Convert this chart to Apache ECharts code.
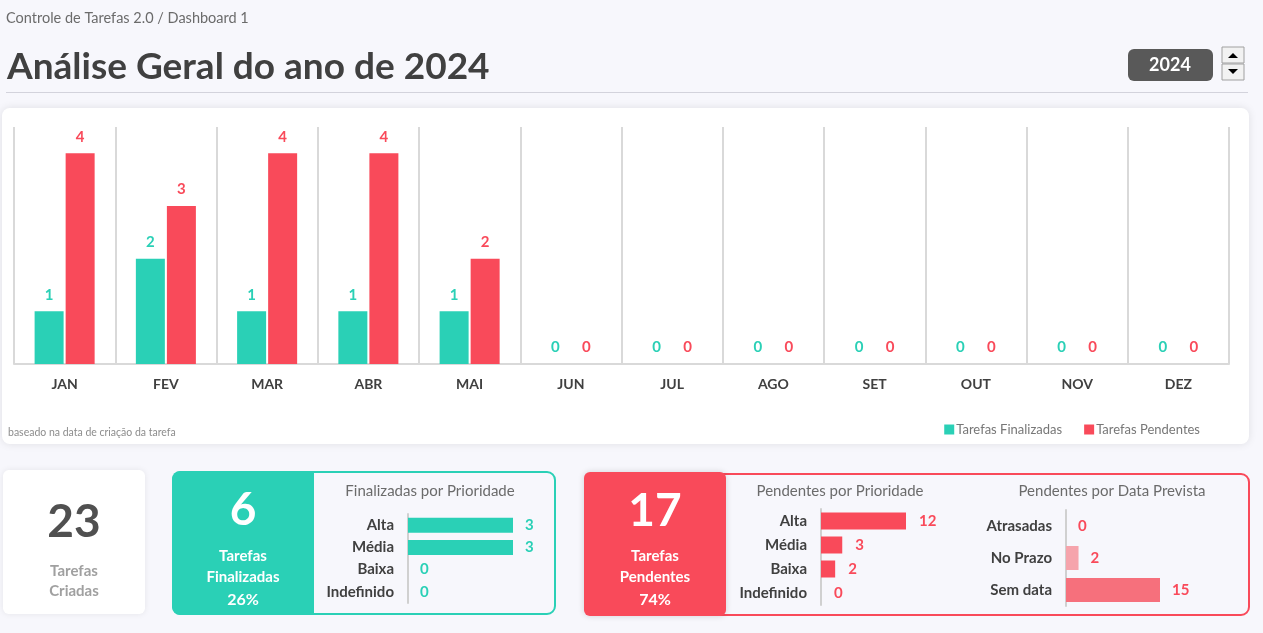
<!DOCTYPE html>
<html>
<head>
<meta charset="utf-8">
<script src="https://cdn.jsdelivr.net/npm/echarts@6/dist/echarts.min.js"></script>
<style>
  html, body { margin: 0; padding: 0; background: #f7f7fc; }
  #chart { width: 1263px; height: 633px; }
</style>
</head>
<body>
<div id="chart"></div>
<script>
// dados do dashboard
const meses = ['JAN', 'FEV', 'MAR', 'ABR', 'MAI', 'JUN', 'JUL', 'AGO', 'SET', 'OUT', 'NOV', 'DEZ']
const finalizadas = [1, 2, 1, 1, 1, 0, 0, 0, 0, 0, 0, 0]
const pendentes = [4, 3, 4, 4, 2, 0, 0, 0, 0, 0, 0, 0]
const prioridades = ['Alta', 'Média', 'Baixa', 'Indefinido']
const finalPorPrioridade = [3, 3, 0, 0]
const pendPorPrioridade = [12, 3, 2, 0]
const prazos = ['Atrasadas', 'No Prazo', 'Sem data']
const pendPorPrazo = [0, 2, 15]
const ano = '2024'

const VERDE = '#2ad0b6'
const VERMELHO = '#f94a5a'
const FONTE = 'Lato'

const totalFin = finalizadas.reduce((a, b) => a + b, 0)
const totalPend = pendentes.reduce((a, b) => a + b, 0)
const totalCriadas = totalFin + totalPend
const pctFin = Math.round(totalFin / totalCriadas * 100) + '%'
const pctPend = Math.round(totalPend / totalCriadas * 100) + '%'

const txt = (x, y, text, size, color, weight, align) => ({
  type: 'text', x: x, y: y,
  style: {
    text: text, fontSize: size, fill: color, fontWeight: weight || 'normal',
    fontFamily: FONTE, align: align || 'center', verticalAlign: 'middle'
  }
})

const catAxis = (grid, data) => ({
  type: 'category', gridIndex: grid, data: data, inverse: true,
  axisTick: { show: false },
  axisLine: { lineStyle: { color: '#d0d0d0', width: 2 } },
  axisLabel: { color: '#404040', fontWeight: 'bold', fontSize: 15, fontFamily: FONTE, margin: 14 },
  splitLine: { show: false }
})

const valAxis = (grid, max) => ({ type: 'value', gridIndex: grid, min: 0, max: max, show: false })

const barLabel = (color, dist) => ({
  show: true, position: 'right', distance: dist, color: color,
  fontWeight: 'bold', fontSize: 15, fontFamily: FONTE
})

const graphics = [
  txt(6, 18, 'Controle de Tarefas 2.0 / Dashboard 1', 14.5, '#6b6b6b', 'normal', 'left'),
  txt(7, 67, 'Análise Geral do ano de ' + ano, 37, '#404040', 'bold', 'left'),
  { type: 'rect', shape: { x: 6, y: 92, width: 1242, height: 1 }, style: { fill: '#d3d3dc' } },
  // seletor de ano
  { type: 'rect', shape: { x: 1128, y: 49, width: 85, height: 32, r: 6 }, style: { fill: '#595959' } },
  txt(1170, 65, ano, 18, '#ffffff', 'bold'),
  { type: 'rect', shape: { x: 1222, y: 47, width: 22, height: 16 }, style: { fill: '#f2f2f2', stroke: '#a0a0a0', lineWidth: 1 } },
  { type: 'rect', shape: { x: 1222, y: 64, width: 22, height: 16 }, style: { fill: '#f2f2f2', stroke: '#a0a0a0', lineWidth: 1 } },
  { type: 'polygon', shape: { points: [[1228, 58], [1238, 58], [1233, 53]] }, style: { fill: '#000' } },
  { type: 'polygon', shape: { points: [[1228, 69], [1238, 69], [1233, 74]] }, style: { fill: '#000' } },
  // card do gráfico principal
  { type: 'rect', shape: { x: 2, y: 108, width: 1247, height: 336, r: 8 },
    style: { fill: '#ffffff', shadowBlur: 8, shadowColor: 'rgba(0,0,0,0.10)' } },
  txt(8, 433, 'baseado na data de criação da tarefa', 10.5, '#8c8c8c', 'normal', 'left'),
  // card tarefas criadas
  { type: 'rect', shape: { x: 3, y: 470, width: 142, height: 144, r: 6 },
    style: { fill: '#ffffff', shadowBlur: 6, shadowColor: 'rgba(0,0,0,0.08)' } },
  txt(74, 522, String(totalCriadas), 46, '#505050', 'bold'),
  txt(74, 571, 'Tarefas', 15, '#a0a0a0', 'bold'),
  txt(74, 591, 'Criadas', 15, '#a0a0a0', 'bold'),
  // card finalizadas
  { type: 'rect', shape: { x: 173, y: 472, width: 382, height: 142, r: 8 },
    style: { fill: '#f7f7fc', stroke: VERDE, lineWidth: 2 } },
  { type: 'rect', shape: { x: 172, y: 471, width: 142, height: 144, r: [8, 0, 0, 8] }, style: { fill: VERDE } },
  txt(243, 510, String(totalFin), 46, '#ffffff', 'bold'),
  txt(243, 556, 'Tarefas', 15, '#ffffff', 'bold'),
  txt(243, 577, 'Finalizadas', 15, '#ffffff', 'bold'),
  txt(243, 600, pctFin, 16, '#ffffff', 'bold'),
  txt(430, 491, 'Finalizadas por Prioridade', 15, '#6b6b6b'),
  // card pendentes
  { type: 'rect', shape: { x: 585, y: 474, width: 664, height: 141, r: 8 },
    style: { fill: '#f7f7fc', stroke: VERMELHO, lineWidth: 2 } },
  { type: 'rect', shape: { x: 584, y: 472, width: 142, height: 144, r: 6 },
    style: { fill: VERMELHO, shadowBlur: 6, shadowColor: 'rgba(0,0,0,0.15)' } },
  txt(655, 511, String(totalPend), 46, '#ffffff', 'bold'),
  txt(655, 556, 'Tarefas', 15, '#ffffff', 'bold'),
  txt(655, 577, 'Pendentes', 15, '#ffffff', 'bold'),
  txt(655, 600, pctPend, 16, '#ffffff', 'bold'),
  txt(840, 491, 'Pendentes por Prioridade', 15, '#6b6b6b'),
  txt(1112, 491, 'Pendentes por Data Prevista', 15, '#6b6b6b')
]

const option = {
  animation: false,
  textStyle: { fontFamily: FONTE },
  graphic: { elements: graphics },
  legend: {
    data: ['Tarefas Finalizadas', 'Tarefas Pendentes'],
    right: 58, top: 418, itemWidth: 10, itemHeight: 10, itemGap: 22,
    icon: 'rect',
    textStyle: { color: '#777777', fontSize: 13, fontFamily: FONTE, padding: [0, 0, 0, -3] }
  },
  grid: [
    { left: 14, right: 34, top: 127, bottom: 269 },
    { left: 408, top: 514, width: 105, height: 89 },
    { left: 821, top: 509, width: 85, height: 96 },
    { left: 1066, top: 510, width: 94, height: 96 }
  ],
  xAxis: [
    {
      type: 'category', gridIndex: 0, data: meses,
      axisLine: { lineStyle: { color: '#d9d9d9', width: 2 } },
      axisTick: { show: false },
      axisLabel: { color: '#404040', fontWeight: 'bold', fontSize: 14, fontFamily: FONTE, margin: 13 },
      splitLine: { show: true, lineStyle: { color: '#d9d9d9', width: 2 } }
    },
    valAxis(1, 3),
    valAxis(2, 12),
    valAxis(3, 15)
  ],
  yAxis: [
    { type: 'value', gridIndex: 0, min: 0, max: 4.5, show: false },
    catAxis(1, prioridades),
    catAxis(2, prioridades),
    catAxis(3, prazos)
  ],
  series: [
    {
      name: 'Tarefas Finalizadas', type: 'bar', xAxisIndex: 0, yAxisIndex: 0,
      data: finalizadas, barWidth: 29, barGap: '7%',
      itemStyle: { color: VERDE },
      label: { show: true, position: 'top', distance: 9, color: VERDE, fontWeight: 'bold', fontSize: 15, fontFamily: FONTE }
    },
    {
      name: 'Tarefas Pendentes', type: 'bar', xAxisIndex: 0, yAxisIndex: 0,
      data: pendentes, barWidth: 29, barGap: '7%',
      itemStyle: { color: VERMELHO },
      label: { show: true, position: 'top', distance: 9, color: VERMELHO, fontWeight: 'bold', fontSize: 15, fontFamily: FONTE }
    },
    {
      name: 'Finalizadas por Prioridade', type: 'bar', xAxisIndex: 1, yAxisIndex: 1,
      data: finalPorPrioridade, barWidth: 15,
      itemStyle: { color: VERDE }, label: barLabel(VERDE, 12)
    },
    {
      name: 'Pendentes por Prioridade', type: 'bar', xAxisIndex: 2, yAxisIndex: 2,
      data: pendPorPrioridade, barWidth: 17,
      itemStyle: { color: VERMELHO }, label: barLabel(VERMELHO, 13)
    },
    {
      name: 'Pendentes por Data Prevista', type: 'bar', xAxisIndex: 3, yAxisIndex: 3,
      data: [
        { value: pendPorPrazo[0], itemStyle: { color: VERMELHO } },
        { value: pendPorPrazo[1], itemStyle: { color: '#f6a4ac' } },
        { value: pendPorPrazo[2], itemStyle: { color: '#f6707c' } }
      ],
      barWidth: 24, label: barLabel(VERMELHO, 12)
    }
  ]
}

const chart = echarts.init(document.getElementById('chart'))
chart.setOption(option)
window.addEventListener('resize', () => chart.resize())
</script>
</body>
</html>
